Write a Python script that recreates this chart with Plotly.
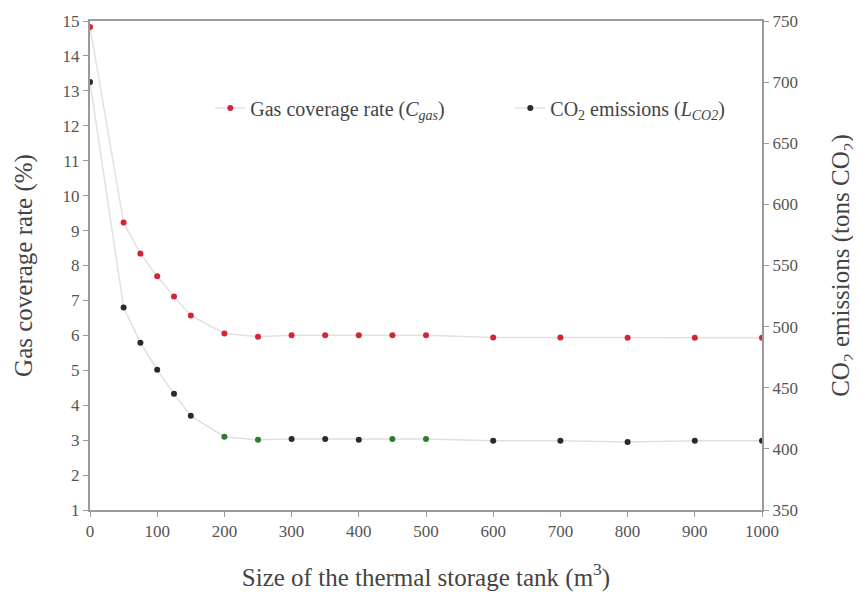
import plotly.graph_objects as go

size_m3 = [0, 50, 75, 100, 125, 150, 200, 250, 300, 350, 400, 450, 500, 600, 700, 800, 900, 1000]
gas_coverage = [14.83, 9.23, 8.34, 7.69, 7.11, 6.57, 6.05, 5.96, 6.0, 6.0, 6.0, 6.0, 6.0, 5.94, 5.94, 5.93, 5.93, 5.93]
co2_emissions = [700, 515.6, 486.9, 464.7, 445, 427, 410, 407.4, 408, 408, 407.4, 408, 408, 406.6, 406.6, 405.7, 406.6, 406.6]
co2_colors = ["#2a2a2a", "#2a2a2a", "#2a2a2a", "#2a2a2a", "#2a2a2a", "#2a2a2a", "#2f7a2f", "#2f7a2f",
              "#2a2a2a", "#2a2a2a", "#2a2a2a", "#2f7a2f", "#2f7a2f", "#2a2a2a", "#2a2a2a", "#2a2a2a",
              "#2a2a2a", "#2a2a2a"]

font = "Liberation Serif, Times New Roman, serif"

fig = go.Figure()
fig.add_trace(go.Scatter(
    x=size_m3, y=gas_coverage, mode="lines+markers",
    name="Gas coverage rate (<i>C</i><sub><i>gas</i></sub>)",
    line=dict(color="#e6e0e0", width=1.5),
    marker=dict(color="#d42436", size=6),
))
fig.add_trace(go.Scatter(
    x=size_m3, y=co2_emissions, mode="lines+markers", yaxis="y2",
    name="CO<sub>2</sub> emissions (<i>L</i><sub><i>CO2</i></sub>)",
    line=dict(color="#e0e0e0", width=1.5),
    marker=dict(color=co2_colors, size=6),
))

axis_common = dict(
    showline=True, linecolor="#9a9a9a", linewidth=2, ticks="outside",
    ticklen=5, tickcolor="#9a9a9a", showgrid=False, zeroline=False,
    automargin=False,
    tickfont=dict(family=font, size=17, color="#555555"),
)
title_font = dict(family=font, size=25, color="#444444")

fig.update_layout(
    width=861, height=596,
    paper_bgcolor="white", plot_bgcolor="white",
    margin=dict(l=82, r=107, t=13, b=94),
    font=dict(family=font, color="#444444"),
    showlegend=True,
    legend=dict(orientation="h", x=0.179, y=0.822, xanchor="left", yanchor="middle",
                entrywidth=255, entrywidthmode="pixels",
                font=dict(family=font, size=20, color="#444444"),
                bgcolor="rgba(0,0,0,0)"),
    xaxis=dict(range=[0, 1000], dtick=100, mirror=True,
               title=dict(text="Size of the thermal storage tank (m<sup>3</sup>)",
                          font=title_font, standoff=28),
               **axis_common),
    yaxis=dict(range=[1, 15], dtick=1,
               title=dict(text="Gas coverage rate (%)", font=title_font, standoff=23),
               **axis_common),
    yaxis2=dict(range=[350, 750], dtick=50, overlaying="y", side="right",
                title=dict(text="CO<sub>2</sub> emissions (tons CO<sub>2</sub>)",
                           font=title_font, standoff=35),
                **axis_common),
)

fig.write_html("out.html")
